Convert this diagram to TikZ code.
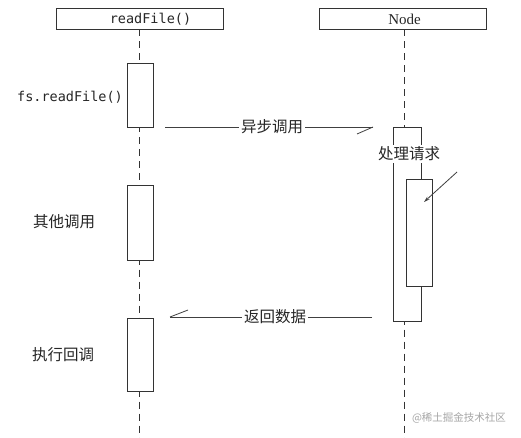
\documentclass[tikz,border=0pt]{standalone}
\usepackage{fontspec}
\setmainfont{Liberation Serif}
\setmonofont{DejaVu Sans Mono}
\newfontfamily\cjk{Noto Sans CJK SC}
\usetikzlibrary{arrows.meta}
\begin{document}
\begin{tikzpicture}[x=1pt,y=-1pt,
  box/.style={draw=black!80,line width=0.8pt,fill=white,inner sep=0pt,outer sep=0pt},
  act/.style={box,minimum width=26pt},
  life/.style={draw=black!80,line width=0.9pt,dash pattern=on 7pt off 5pt},
  msg/.style={draw=black!75,line width=0.8pt},
  lbl/.style={font=\cjk\fontsize{15.5}{18}\selectfont,text=black!85},
  tag/.style={lbl,fill=white,inner sep=2pt}
]
\useasboundingbox (0,0) rectangle (521,438);
\fill[white] (0,0) rectangle (521,438);
% headers
\node[box,minimum width=167pt,minimum height=21pt] (hr) at (139.5,19) {};
\node[font=\ttfamily\fontsize{13.5}{16}\selectfont,text=black!85,inner sep=0pt] (hrt) at (150.5,19) {readFile()};
\node[box,minimum width=167pt,minimum height=21pt] (hn) at (402.5,19) {};
\node[font=\fontsize{15}{18}\selectfont,text=black!85,inner sep=0pt] (hnt) at (404.5,19) {Node};
\coordinate (lr) at (139,438);
\coordinate (ln) at (404,438);
\draw[life] (hr.south -| lr) -- (lr);
\draw[life] (hn.south -| ln) -- (ln);
% left activation boxes
\node[act,minimum height=64pt] (a1) at (140,95) {};
\node[act,minimum height=75pt] (a2) at (140,222.5) {};
\node[act,minimum height=73pt] (a3) at (140,354.5) {};
\node[anchor=east,font=\ttfamily\fontsize{13.5}{16}\selectfont,text=black!85,inner sep=0pt] (t1) at (123,97) {fs.readFile()};
\node[lbl,inner sep=0pt] (t2) at (64,222) {其他调用};
\node[lbl,inner sep=0pt] (t3) at (63,355) {执行回调};
% Node side boxes
\node[box,minimum width=28pt,minimum height=194pt] (o) at (407,224) {};
\node[tag,inner sep=1.5pt] (p) at (409,154) {处理请求};
\node[act,minimum height=107pt] (i) at (419,232.5) {};
\coordinate (as) at (457,172);
\coordinate (ae) at (424,202);
\draw[msg,-{Stealth[length=6pt,width=3.5pt]}] (as) -- (ae);
% messages
\coordinate (m1s) at (165,127);
\coordinate (m1e) at (373,127);
\coordinate (m1b) at (357,134);
\draw[msg] (m1s) -- node[tag,xshift=3pt] (mt1) {异步调用} (m1e);
\draw[msg] (m1e) -- (m1b);
\coordinate (m2s) at (372,317);
\coordinate (m2e) at (170,317);
\coordinate (m2b) at (188,310);
\draw[msg] (m2s) -- node[tag,xshift=4pt] (mt2) {返回数据} (m2e);
\draw[msg] (m2e) -- (m2b);
% watermark
\node[font=\cjk\fontsize{10.5}{12}\selectfont,text=black!35,inner sep=0pt] (wm) at (459,418) {@稀土掘金技术社区};
\end{tikzpicture}
\end{document}
